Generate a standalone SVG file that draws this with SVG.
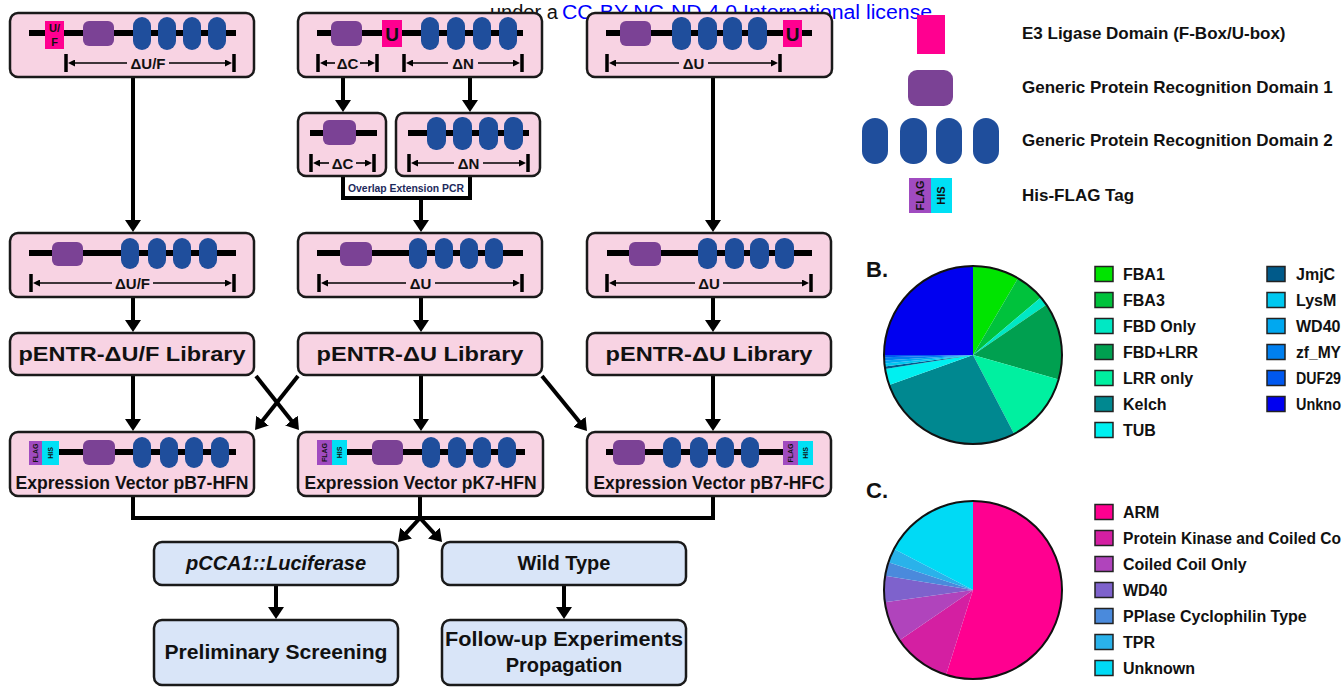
<svg xmlns="http://www.w3.org/2000/svg" width="1344" height="688" viewBox="0 0 1344 688">
<defs>
<style>
.box{fill:#F8D3E3;stroke:#1a1a1a;stroke-width:2.5}
.bbox{fill:#D9E5F8;stroke:#1a1a1a;stroke-width:2.5}
.bb{stroke:#000;stroke-width:6}
.p1{fill:#7B4295}
.ov{fill:#1F4E9C}
.e3{fill:#FF0090}
.flag{fill:#A04BC0}
.his{fill:#00E0F5}
.bar{stroke:#000;stroke-width:3.5}
.ar{stroke:#000;stroke-width:1.6;marker-end:url(#sa)}
.conn{stroke:#000;stroke-width:4;fill:none}
.arr{stroke:#000;stroke-width:4;fill:none;marker-end:url(#ah)}
text{font-family:"Liberation Sans",Arial,sans-serif;fill:#111}
.b{font-weight:bold}
.lbl{font-weight:bold;font-size:15px;text-anchor:middle}
.lib{font-weight:bold;font-size:21px;text-anchor:middle}
.ev{font-weight:bold;font-size:17.5px;text-anchor:middle}
.tag{font-size:7px;font-weight:bold;text-anchor:middle}
.blt{font-weight:bold;font-size:20px;text-anchor:middle}
.lg{font-weight:bold;font-size:16px}
.la{font-weight:bold;font-size:17px}
.sq{stroke:#222;stroke-width:1.5}
</style>
<marker id="ah" viewBox="0 0 12 16" markerWidth="12" markerHeight="16" refX="1" refY="8" orient="auto" markerUnits="userSpaceOnUse"><path d="M0,0 L12,8 L0,16z" fill="#000"/></marker>
<marker id="sa" viewBox="0 0 7 7" markerWidth="7" markerHeight="7" refX="1" refY="3.5" orient="auto" markerUnits="userSpaceOnUse"><path d="M0,0 L7,3.5 L0,7z" fill="#000"/></marker>
</defs>
<rect width="1344" height="688" fill="#fff"/>

<!-- connectors -->
<g id="connectors">
<line class="arr" x1="133" y1="77" x2="133" y2="221"/>
<line class="arr" x1="713" y1="77" x2="713" y2="221"/>
<line class="arr" x1="343" y1="77" x2="343" y2="101"/>
<line class="arr" x1="470" y1="77" x2="470" y2="101"/>
<path class="conn" d="M343,176 V198 H470 V176"/>
<line class="arr" x1="421" y1="198" x2="421" y2="221"/>
<line class="arr" x1="133" y1="297" x2="133" y2="321"/>
<line class="arr" x1="421" y1="297" x2="421" y2="321"/>
<line class="arr" x1="713" y1="297" x2="713" y2="321"/>
<line class="arr" x1="133" y1="375" x2="133" y2="420"/>
<line class="arr" x1="421" y1="375" x2="421" y2="420"/>
<line class="arr" x1="713" y1="375" x2="713" y2="420"/>
<line class="arr" x1="256" y1="376" x2="292.1" y2="421.4"/>
<line class="arr" x1="298" y1="376" x2="261.9" y2="421.4"/>
<line class="arr" x1="542" y1="376" x2="580" y2="422.5"/>
<path class="conn" d="M133,496 V518 H713 V496 M420,497 V518"/>
<line class="arr" x1="420" y1="518" x2="405.4" y2="533.9"/>
<line class="arr" x1="420" y1="518" x2="434.6" y2="533.9"/>
<line class="arr" x1="276" y1="586" x2="276" y2="608"/>
<line class="arr" x1="564" y1="586" x2="564" y2="608"/>
<text x="406" y="192" class="b" font-size="10.5" text-anchor="middle" textLength="116" lengthAdjust="spacingAndGlyphs" style="fill:#1d2a5c">Overlap Extension PCR</text>
</g>

<!-- license text -->
<g id="license">
<text x="490" y="19" font-size="20">under a</text>
<text x="562" y="19" font-size="20" style="fill:#0000FF" textLength="376" lengthAdjust="spacingAndGlyphs">CC-BY-NC-ND 4.0 International license.</text>
</g>

<!-- Row 1 -->
<g id="full-uf">
<rect class="box" x="10" y="13" width="244" height="64" rx="8"/>
<line class="bb" x1="29" y1="33" x2="236" y2="33"/>
<rect class="e3" x="45" y="21" width="19" height="28"/>
<text x="54.5" y="32" class="b" font-size="11" text-anchor="middle">U/</text>
<text x="54.5" y="46" class="b" font-size="11" text-anchor="middle">F</text>
<rect class="p1" x="83" y="21" width="31" height="25" rx="6"/>
<rect class="ov" x="133" y="17" width="18" height="33" rx="9"/>
<rect class="ov" x="158" y="17" width="18" height="33" rx="9"/>
<rect class="ov" x="183" y="17" width="18" height="33" rx="9"/>
<rect class="ov" x="208" y="17" width="18" height="33" rx="9"/>
<line class="bar" x1="66" y1="54" x2="66" y2="72"/><line class="bar" x1="234" y1="54" x2="234" y2="72"/>
<line class="ar" x1="127" y1="63" x2="74" y2="63"/><line class="ar" x1="169" y1="63" x2="226" y2="63"/>
<text x="148" y="68.5" class="lbl">ΔU/F</text>
</g>

<g id="full-uc">
<rect class="box" x="298" y="13" width="244" height="64" rx="8"/>
<line class="bb" x1="317" y1="33" x2="523" y2="33"/>
<rect class="p1" x="331" y="21" width="31" height="25" rx="6"/>
<rect class="e3" x="382" y="20" width="20" height="27"/>
<text x="392" y="41" class="b" font-size="19" text-anchor="middle">U</text>
<rect class="ov" x="421" y="17" width="18" height="33" rx="9"/>
<rect class="ov" x="447" y="17" width="18" height="33" rx="9"/>
<rect class="ov" x="473" y="17" width="18" height="33" rx="9"/>
<rect class="ov" x="499" y="17" width="18" height="33" rx="9"/>
<line class="bar" x1="318" y1="54" x2="318" y2="72"/><line class="bar" x1="377" y1="54" x2="377" y2="72"/>
<line class="ar" x1="335" y1="63" x2="326" y2="63"/><line class="ar" x1="360" y1="63" x2="369" y2="63"/>
<text x="347.5" y="68.5" class="lbl">ΔC</text>
<line class="bar" x1="404" y1="54" x2="404" y2="72"/><line class="bar" x1="522" y1="54" x2="522" y2="72"/>
<line class="ar" x1="448" y1="63" x2="412" y2="63"/><line class="ar" x1="478" y1="63" x2="514" y2="63"/>
<text x="463" y="68.5" class="lbl">ΔN</text>
</g>

<g id="full-un">
<rect class="box" x="587" y="13" width="245" height="64" rx="8"/>
<line class="bb" x1="606" y1="33" x2="812" y2="33"/>
<rect class="p1" x="620" y="21" width="31" height="25" rx="6"/>
<rect class="ov" x="672" y="17" width="19" height="33" rx="9"/>
<rect class="ov" x="698" y="17" width="19" height="33" rx="9"/>
<rect class="ov" x="723" y="17" width="19" height="33" rx="9"/>
<rect class="ov" x="748" y="17" width="19" height="33" rx="9"/>
<rect class="e3" x="783" y="20" width="19" height="27"/>
<text x="792.5" y="41" class="b" font-size="19" text-anchor="middle">U</text>
<line class="bar" x1="607" y1="54" x2="607" y2="72"/><line class="bar" x1="780" y1="54" x2="780" y2="72"/>
<line class="ar" x1="679" y1="63" x2="615" y2="63"/><line class="ar" x1="708" y1="63" x2="772" y2="63"/>
<text x="693.5" y="68.5" class="lbl">ΔU</text>
</g>

<!-- Tier 2 fragments -->
<g id="frag-c">
<rect class="box" x="298" y="113" width="88" height="63" rx="8"/>
<line class="bb" x1="310" y1="133" x2="377" y2="133"/>
<rect class="p1" x="323" y="120" width="33" height="25" rx="6"/>
<line class="bar" x1="311" y1="154" x2="311" y2="172"/><line class="bar" x1="374" y1="154" x2="374" y2="172"/>
<line class="ar" x1="329" y1="163" x2="319" y2="163"/><line class="ar" x1="356" y1="163" x2="366" y2="163"/>
<text x="342.5" y="168.5" class="lbl">ΔC</text>
</g>
<g id="frag-n">
<rect class="box" x="396" y="113" width="144" height="63" rx="8"/>
<line class="bb" x1="408" y1="133" x2="529" y2="133"/>
<rect class="ov" x="427" y="117" width="19" height="33" rx="9"/>
<rect class="ov" x="453" y="117" width="19" height="33" rx="9"/>
<rect class="ov" x="479" y="117" width="19" height="33" rx="9"/>
<rect class="ov" x="504" y="117" width="19" height="33" rx="9"/>
<line class="bar" x1="409" y1="154" x2="409" y2="172"/><line class="bar" x1="528" y1="154" x2="528" y2="172"/>
<line class="ar" x1="454" y1="163" x2="417" y2="163"/><line class="ar" x1="483" y1="163" x2="520" y2="163"/>
<text x="468.5" y="168.5" class="lbl">ΔN</text>
</g>

<!-- Row 2 -->
<g id="trunc-uf">
<rect class="box" x="10" y="233" width="244" height="64" rx="8"/>
<line class="bb" x1="29" y1="253" x2="236" y2="253"/>
<rect class="p1" x="52" y="242" width="31" height="24" rx="6"/>
<rect class="ov" x="121" y="238" width="18" height="31" rx="9"/>
<rect class="ov" x="148" y="238" width="18" height="31" rx="9"/>
<rect class="ov" x="173" y="238" width="18" height="31" rx="9"/>
<rect class="ov" x="199" y="238" width="18" height="31" rx="9"/>
<line class="bar" x1="31" y1="274" x2="31" y2="292"/><line class="bar" x1="234" y1="274" x2="234" y2="292"/>
<line class="ar" x1="112" y1="283" x2="39" y2="283"/><line class="ar" x1="153" y1="283" x2="226" y2="283"/>
<text x="132.5" y="288.5" class="lbl">ΔU/F</text>
</g>
<g id="trunc-uc">
<rect class="box" x="298" y="233" width="244" height="64" rx="8"/>
<line class="bb" x1="317" y1="253" x2="523" y2="253"/>
<rect class="p1" x="340" y="242" width="32" height="24" rx="6"/>
<rect class="ov" x="409" y="238" width="18" height="31" rx="9"/>
<rect class="ov" x="435" y="238" width="18" height="31" rx="9"/>
<rect class="ov" x="460" y="238" width="18" height="31" rx="9"/>
<rect class="ov" x="485" y="238" width="18" height="31" rx="9"/>
<line class="bar" x1="319" y1="274" x2="319" y2="292"/><line class="bar" x1="522" y1="274" x2="522" y2="292"/>
<line class="ar" x1="406" y1="283" x2="327" y2="283"/><line class="ar" x1="435" y1="283" x2="514" y2="283"/>
<text x="420.5" y="288.5" class="lbl">ΔU</text>
</g>
<g id="trunc-un">
<rect class="box" x="587" y="233" width="244" height="64" rx="8"/>
<line class="bb" x1="607" y1="253" x2="812" y2="253"/>
<rect class="p1" x="629" y="242" width="32" height="24" rx="6"/>
<rect class="ov" x="698" y="238" width="19" height="31" rx="9"/>
<rect class="ov" x="725" y="238" width="19" height="31" rx="9"/>
<rect class="ov" x="750" y="238" width="19" height="31" rx="9"/>
<rect class="ov" x="775" y="238" width="19" height="31" rx="9"/>
<line class="bar" x1="607" y1="274" x2="607" y2="292"/><line class="bar" x1="811" y1="274" x2="811" y2="292"/>
<line class="ar" x1="695" y1="283" x2="615" y2="283"/><line class="ar" x1="723" y1="283" x2="803" y2="283"/>
<text x="709" y="288.5" class="lbl">ΔU</text>
</g>

<!-- Row 3 libraries -->
<g id="lib-uf"><rect class="box" x="10" y="333" width="244" height="42" rx="8"/><text x="132" y="361" class="lib" textLength="227" lengthAdjust="spacingAndGlyphs">pENTR-ΔU/F Library</text></g>
<g id="lib-u1"><rect class="box" x="298" y="333" width="244" height="42" rx="8"/><text x="420" y="361" class="lib" textLength="207" lengthAdjust="spacingAndGlyphs">pENTR-ΔU Library</text></g>
<g id="lib-u2"><rect class="box" x="587" y="333" width="244" height="42" rx="8"/><text x="709" y="361" class="lib" textLength="207" lengthAdjust="spacingAndGlyphs">pENTR-ΔU Library</text></g>

<!-- Row 4 expression vectors -->
<g id="ev-pb7-hfn">
<rect class="box" x="10" y="432" width="244" height="64" rx="8"/>
<line class="bb" x1="42" y1="452" x2="236" y2="452"/>
<rect class="flag" x="29" y="441" width="13" height="24"/><rect class="his" x="42" y="441" width="17" height="24"/>
<text class="tag" transform="translate(38,453) rotate(-90)">FLAG</text>
<text class="tag" transform="translate(53,453) rotate(-90)">HIS</text>
<rect class="p1" x="83" y="440" width="32" height="25" rx="6"/>
<rect class="ov" x="133" y="437" width="18" height="31" rx="9"/>
<rect class="ov" x="160" y="437" width="18" height="31" rx="9"/>
<rect class="ov" x="185" y="437" width="18" height="31" rx="9"/>
<rect class="ov" x="211" y="437" width="18" height="31" rx="9"/>
<text x="132" y="489" class="ev" textLength="233" lengthAdjust="spacingAndGlyphs">Expression Vector pB7-HFN</text>
</g>
<g id="ev-pk7-hfn">
<rect class="box" x="298" y="432" width="245" height="64" rx="8"/>
<line class="bb" x1="347" y1="452" x2="525" y2="452"/>
<rect class="flag" x="317" y="440" width="15" height="25"/><rect class="his" x="332" y="440" width="15" height="25"/>
<text class="tag" transform="translate(327,452.5) rotate(-90)">FLAG</text>
<text class="tag" transform="translate(342,452.5) rotate(-90)">HIS</text>
<rect class="p1" x="372" y="440" width="31" height="25" rx="6"/>
<rect class="ov" x="422" y="437" width="18" height="31" rx="9"/>
<rect class="ov" x="448" y="437" width="18" height="31" rx="9"/>
<rect class="ov" x="473" y="437" width="18" height="31" rx="9"/>
<rect class="ov" x="498" y="437" width="18" height="31" rx="9"/>
<text x="420.5" y="489" class="ev" textLength="232" lengthAdjust="spacingAndGlyphs">Expression Vector pK7-HFN</text>
</g>
<g id="ev-pb7-hfc">
<rect class="box" x="587" y="432" width="244" height="64" rx="8"/>
<line class="bb" x1="606" y1="452" x2="783" y2="452"/>
<rect class="p1" x="613" y="440" width="32" height="25" rx="6"/>
<rect class="ov" x="663" y="437" width="18" height="31" rx="9"/>
<rect class="ov" x="690" y="437" width="18" height="31" rx="9"/>
<rect class="ov" x="716" y="437" width="18" height="31" rx="9"/>
<rect class="ov" x="741" y="437" width="18" height="31" rx="9"/>
<rect class="flag" x="783" y="441" width="15" height="24"/><rect class="his" x="798" y="441" width="15" height="24"/>
<text class="tag" transform="translate(793,453) rotate(-90)">FLAG</text>
<text class="tag" transform="translate(808,453) rotate(-90)">HIS</text>
<text x="709" y="489" class="ev" textLength="231" lengthAdjust="spacingAndGlyphs">Expression Vector pB7-HFC</text>
</g>

<!-- Bottom blue boxes -->
<g id="luciferase"><rect class="bbox" x="154" y="542" width="244" height="43" rx="8"/><text x="276" y="570" class="blt" font-style="italic">pCCA1::Luciferase</text></g>
<g id="wild-type"><rect class="bbox" x="442" y="542" width="244" height="43" rx="8"/><text x="564" y="570" class="blt">Wild Type</text></g>
<g id="screening"><rect class="bbox" x="154" y="620" width="244" height="65" rx="8"/><text x="276" y="659" class="blt" textLength="223" lengthAdjust="spacingAndGlyphs">Preliminary Screening</text></g>
<g id="followup"><rect class="bbox" x="442" y="620" width="244" height="65" rx="8"/><text x="564" y="646" class="blt" textLength="238" lengthAdjust="spacingAndGlyphs">Follow-up Experiments</text><text x="564" y="672" class="blt">Propagation</text></g>

<!-- Legend A -->
<g id="legend-domains">
<rect class="e3" x="917" y="15" width="28" height="39"/>
<text x="1022" y="39" class="la">E3 Ligase Domain (F-Box/U-box)</text>
<rect class="p1" x="908" y="70" width="45" height="36" rx="9"/>
<text x="1022" y="93" class="la">Generic Protein Recognition Domain 1</text>
<rect class="ov" x="862" y="118" width="26" height="46" rx="13"/>
<rect class="ov" x="900" y="118" width="27" height="46" rx="13"/>
<rect class="ov" x="936" y="118" width="26" height="46" rx="13"/>
<rect class="ov" x="973" y="118" width="26" height="46" rx="13"/>
<text x="1022" y="146" class="la">Generic Protein Recognition Domain 2</text>
<rect class="flag" x="909" y="178" width="22" height="35"/><rect class="his" x="931" y="178" width="21" height="35"/>
<text transform="translate(924,195.5) rotate(-90)" font-size="11" class="b" text-anchor="middle">FLAG</text>
<text transform="translate(945,195.5) rotate(-90)" font-size="11" class="b" text-anchor="middle">HIS</text>
<text x="1022" y="201" class="la">His-FLAG Tag</text>
</g>

<!-- Pie B -->
<g id="pie-b">
<text x="866" y="277" class="b" font-size="22">B.</text>
<path d="M973,355 L973,266 A89,89 0 0 1 1018,278.2 Z" fill="#00E400"/>
<path d="M973,355 L1018,278.2 A89,89 0 0 1 1040.9,297.4 Z" fill="#00C23C"/>
<path d="M973,355 L1040.9,297.4 A89,89 0 0 1 1046.4,304.7 Z" fill="#00E8C4"/>
<path d="M973,355 L1046.4,304.7 A89,89 0 0 1 1058.6,379.4 Z" fill="#00A050"/>
<path d="M973,355 L1058.6,379.4 A89,89 0 0 1 1014.2,433.9 Z" fill="#00F0A0"/>
<path d="M973,355 L1014.2,433.9 A89,89 0 0 1 889.2,385 Z" fill="#008890"/>
<path d="M973,355 L889.2,385 A89,89 0 0 1 885.1,368.9 Z" fill="#00F0F0"/>
<path d="M973,355 L885.1,368.9 A89,89 0 0 1 884.8,366.6 Z" fill="#005A8A"/>
<path d="M973,355 L884.8,366.6 A89,89 0 0 1 884.4,363.5 Z" fill="#00C8F0"/>
<path d="M973,355 L884.4,363.5 A89,89 0 0 1 884.2,360.4 Z" fill="#00A8F0"/>
<path d="M973,355 L884.2,360.4 A89,89 0 0 1 884,357.3 Z" fill="#0080F0"/>
<path d="M973,355 L884,357.3 A89,89 0 0 1 884,355 Z" fill="#0058F0"/>
<path d="M973,355 L884,355 A89,89 0 0 1 973,266 Z" fill="#0000F0"/>
<circle cx="973" cy="355" r="89" fill="none" stroke="#111" stroke-width="2"/>
</g>
<g id="legend-b">
<rect class="sq" x="1095" y="266.5" width="18" height="15" fill="#00E400"/><text x="1123" y="280" class="lg">FBA1</text>
<rect class="sq" x="1095" y="292.5" width="18" height="15" fill="#00C23C"/><text x="1123" y="306" class="lg">FBA3</text>
<rect class="sq" x="1095" y="318.5" width="18" height="15" fill="#00E8C4"/><text x="1123" y="332" class="lg">FBD Only</text>
<rect class="sq" x="1095" y="344.5" width="18" height="15" fill="#00A050"/><text x="1123" y="358" class="lg">FBD+LRR</text>
<rect class="sq" x="1095" y="370.5" width="18" height="15" fill="#00F0A0"/><text x="1123" y="384" class="lg">LRR only</text>
<rect class="sq" x="1095" y="396.5" width="18" height="15" fill="#008890"/><text x="1123" y="410" class="lg">Kelch</text>
<rect class="sq" x="1095" y="422.5" width="18" height="15" fill="#00F0F0"/><text x="1123" y="436" class="lg">TUB</text>
<rect class="sq" x="1267" y="266.5" width="18" height="15" fill="#005A8A"/><text x="1296" y="280" class="lg">JmjC</text>
<rect class="sq" x="1267" y="292.5" width="18" height="15" fill="#00C8F0"/><text x="1296" y="306" class="lg">LysM</text>
<rect class="sq" x="1267" y="318.5" width="18" height="15" fill="#00A8F0"/><text x="1296" y="332" class="lg">WD40</text>
<rect class="sq" x="1267" y="344.5" width="18" height="15" fill="#0080F0"/><text x="1296" y="358" class="lg" textLength="45" lengthAdjust="spacingAndGlyphs">zf_MY</text>
<rect class="sq" x="1267" y="370.5" width="18" height="15" fill="#0058F0"/><text x="1296" y="384" class="lg" textLength="45" lengthAdjust="spacingAndGlyphs">DUF29</text>
<rect class="sq" x="1267" y="396.5" width="18" height="15" fill="#0000F0"/><text x="1296" y="410" class="lg" textLength="45" lengthAdjust="spacingAndGlyphs">Unkno</text>
</g>

<!-- Pie C -->
<g id="pie-c">
<text x="866" y="498" class="b" font-size="22">C.</text>
<path d="M973,590 L973,501 A89,89 0 1 1 946.1,674.8 Z" fill="#FF0090"/>
<path d="M973,590 L946.1,674.8 A89,89 0 0 1 899.6,640.3 Z" fill="#D41FA2"/>
<path d="M973,590 L899.6,640.3 A89,89 0 0 1 884.8,602.2 Z" fill="#B044BC"/>
<path d="M973,590 L884.8,602.2 A89,89 0 0 1 885.1,575.8 Z" fill="#7E62CC"/>
<path d="M973,590 L885.1,575.8 A89,89 0 0 1 888.5,562.2 Z" fill="#4A8ADC"/>
<path d="M973,590 L888.5,562.2 A89,89 0 0 1 894.1,548.9 Z" fill="#2AB2EA"/>
<path d="M973,590 L894.1,548.9 A89,89 0 0 1 973,501 Z" fill="#00DAF5"/>
<circle cx="973" cy="590" r="89" fill="none" stroke="#111" stroke-width="2"/>
</g>
<g id="legend-c">
<rect class="sq" x="1095" y="504.5" width="18" height="15" fill="#FF0090"/><text x="1123" y="518" class="lg">ARM</text>
<rect class="sq" x="1095" y="530.5" width="18" height="15" fill="#D41FA2"/><text x="1123" y="544" class="lg" textLength="218" lengthAdjust="spacingAndGlyphs">Protein Kinase and Coiled Co</text>
<rect class="sq" x="1095" y="556.5" width="18" height="15" fill="#B044BC"/><text x="1123" y="570" class="lg">Coiled Coil Only</text>
<rect class="sq" x="1095" y="582.5" width="18" height="15" fill="#7E62CC"/><text x="1123" y="596" class="lg">WD40</text>
<rect class="sq" x="1095" y="608.5" width="18" height="15" fill="#4A8ADC"/><text x="1123" y="622" class="lg">PPlase Cyclophilin Type</text>
<rect class="sq" x="1095" y="634.5" width="18" height="15" fill="#2AB2EA"/><text x="1123" y="648" class="lg">TPR</text>
<rect class="sq" x="1095" y="660.5" width="18" height="15" fill="#00DAF5"/><text x="1123" y="674" class="lg">Unknown</text>
</g>
</svg>
